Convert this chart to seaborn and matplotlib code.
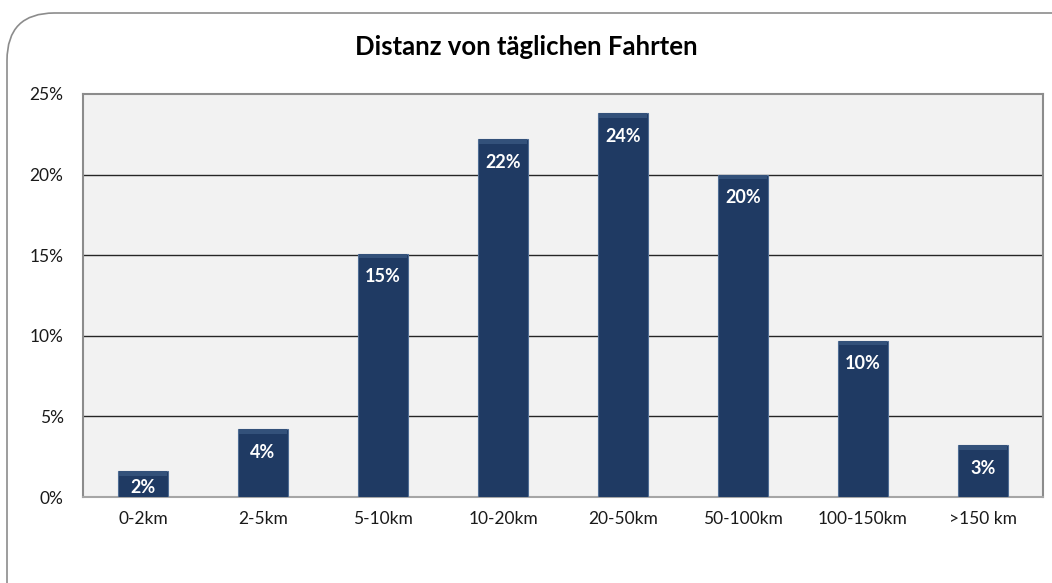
import matplotlib
matplotlib.use("Agg")
import matplotlib.pyplot as plt
import seaborn as sns
import pandas as pd
from matplotlib.patches import FancyBboxPatch

categories = ["0-2km", "2-5km", "5-10km", "10-20km", "20-50km", "50-100km", "100-150km", ">150 km"]
values = [1.6, 4.2, 15.1, 22.2, 23.8, 20.0, 9.7, 3.2]
yticks = [0, 5, 10, 15, 20, 25]
title = "Distanz von täglichen Fahrten"

sns.set_theme(style="white")
plt.rcParams["font.family"] = ["Lato", "DejaVu Sans"]

df = pd.DataFrame({"cat": categories, "val": values})

fig = plt.figure(figsize=(10.52, 5.83), dpi=100)
W, H = 1052, 583
ax = fig.add_axes([83 / W, 1 - 497 / H, 960 / W, 403 / H])

# rounded outer frame
frame = FancyBboxPatch((7 / W, -0.2), 1.2, (1 - 13 / H) + 0.2,
                       boxstyle="round,pad=0,rounding_size=0.045",
                       transform=fig.transFigure, facecolor="white",
                       edgecolor="#8c8c8c", linewidth=1.2, zorder=-10,
                       mutation_aspect=W / H)
fig.patches.append(frame)

ax.set_facecolor("#F2F2F2")
sns.barplot(data=df, x="cat", y="val", ax=ax, color="#1F3A63", width=0.42,
            saturation=1, edgecolor="#4F6D94", linewidth=0.8, zorder=3)

# subtle bevel highlight along bar tops
for i, v in enumerate(values):
    h = min(0.3, v * 0.3)
    ax.bar(i, h, bottom=v - h, width=0.40, color="#33517A", linewidth=0, zorder=4)

ax.set_xlim(-0.5, len(categories) - 0.5)
ax.set_ylim(0, 25)
ax.set_yticks(yticks)
ax.set_yticklabels([f"{t}%" for t in yticks], fontsize=12.5, color="#1a1a1a")
ax.tick_params(axis="x", labelsize=12.5, colors="#1a1a1a", length=0, pad=10)
ax.tick_params(axis="y", length=0, pad=14)
for t in [5, 10, 15, 20]:
    ax.axhline(t, color="#262626", linewidth=1.0, zorder=1)
ax.set_xlabel("")
ax.set_ylabel("")
for s in ax.spines.values():
    s.set_color("#8c8c8c")
    s.set_linewidth(1.5)
ax.spines["bottom"].set_color("#a6a6a6")

for i, v in enumerate(values):
    ax.text(i, max(v - 1.43, 0.62), f"{round(v):d}%", ha="center", va="center",
            color="white", fontsize=13, fontweight="bold", zorder=5)

fig.text(0.5, 1 - 47 / H, title, ha="center", va="center", fontsize=18.5, fontweight="bold",
         color="black")

fig.savefig("out.png", dpi=100)
